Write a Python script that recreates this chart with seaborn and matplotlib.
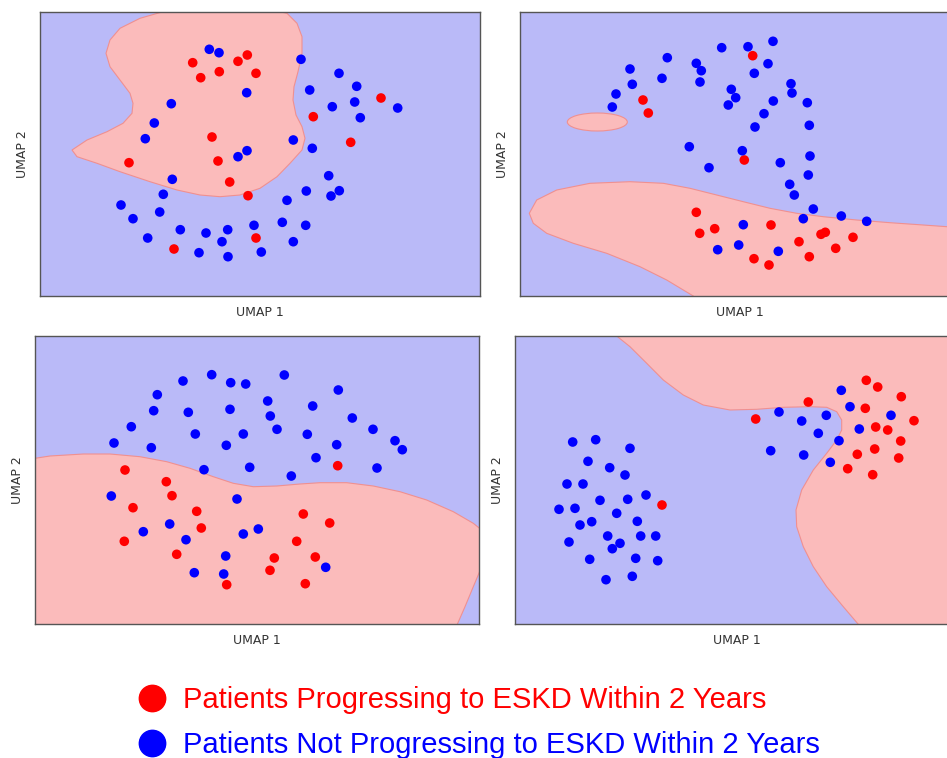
import numpy as np
import pandas as pd
import matplotlib.pyplot as plt
from matplotlib.lines import Line2D
from matplotlib.patches import Ellipse
import seaborn as sns

# Coordinates are in the UMAP embedding units of each panel
# panel 1
p1_red_x = [192.7, 200.7, 219.3, 238, 247.3, 256, 381, 313.3, 212, 350.7, 129, 218, 229.7, 248, 256, 174]
p1_red_y = [62.7, 77.7, 71.7, 61.3, 55, 73.3, 98, 116.7, 137, 142.3, 162.7, 161, 182, 195.7, 238, 249]
p1_blue_x = [209.3, 219, 301, 339, 356.7, 246.7, 309.7, 171.3, 332.3, 354.7, 397.7, 360.3, 154.3, 145.3,
             293.3, 312.3, 247, 238, 172.3, 328.7, 163.3, 306.3, 339.3, 331, 287, 121, 159.7, 133, 282.3,
             305.7, 254, 180.3, 206, 227.7, 147.7, 222, 293.3, 199, 228, 261.3]
p1_blue_y = [49.3, 52.7, 59.3, 73.3, 86.3, 92.7, 90, 103.7, 106.7, 102, 108, 117.7, 123, 138.7,
             140, 148.3, 150.7, 156.7, 179.3, 175.7, 194.3, 191, 190.7, 196, 200.3, 205, 212, 218.7, 222.3,
             225.3, 225.3, 229.7, 233, 229.7, 238, 241.7, 241.7, 252.7, 256.7, 252]
p1_region_x = [163, 140, 120, 110, 106, 110, 120, 130, 133, 132, 123, 107, 87, 72, 77, 97, 120, 150,
               177, 200, 220, 240, 260, 277, 290, 302, 305, 302, 296, 293, 294, 298, 302, 302, 297, 287, 280, 280, 163]
p1_region_y = [11.7, 18.3, 28.3, 40, 53.3, 66.7, 80, 93.3, 103.3, 113.3, 123.3, 131.7, 140, 150, 156.7,
               163.3, 171.7, 181.7, 190, 195, 196.7, 195, 188.3, 176.7, 163.3, 150, 138.3, 126.7, 115, 100,
               86.7, 71.7, 53.3, 36.7, 23.3, 13.3, 11.7, 0, 0]

# panel 2
p2_red_x = [752.7, 643, 648.3, 744.3, 696.3, 699.7, 714.7, 771, 799, 821, 825.3, 853, 835.7, 809.3, 754, 769]
p2_red_y = [55.7, 100, 113, 160, 212.3, 233.3, 228.7, 225, 241.7, 234.3, 232.3, 237.3, 248.3, 256.7, 258.7, 265]
p2_blue_x = [773, 721.7, 748, 667.3, 696.3, 701.3, 768, 630, 754.3, 662, 700, 632.3, 791, 731.3, 792, 616,
             735.7, 773.3, 728.3, 807.3, 612.3, 764, 809.3, 755, 689.3, 742.3, 709, 780.3, 810, 808.3, 789.7,
             794.3, 813.3, 803.3, 841.3, 866.7, 743.3, 738.7, 717.7, 778.3]
p2_blue_y = [41.3, 47.7, 46.7, 57.7, 63.3, 70.7, 63.7, 69, 73.3, 78.3, 82, 84.3, 83.7, 89.3, 93, 94,
             97.7, 101, 105, 102.7, 107, 113.7, 125.3, 127, 146.7, 150.7, 167.7, 162.7, 156, 175, 184.3,
             195, 209, 218.7, 216, 221.3, 224.7, 245, 249.7, 251.3]
p2_region_x = [700, 693.3, 683.3, 666.7, 640, 606.7, 573.3, 546.7, 533.3, 529.3, 536.7, 556.7, 590, 630,
               663.3, 690, 716.7, 743.3, 770, 796.7, 823.3, 856.7, 890, 923.3, 947, 980, 980]
p2_region_y = [310, 296, 290, 280, 266.7, 253.3, 243.3, 233.3, 223.3, 213.3, 200, 190, 183.3, 181.7,
               183.3, 188.3, 195, 201.7, 208.3, 213.3, 216.7, 220, 222.7, 225, 226.7, 230, 310]
p2_island = (597.3, 122, 60, 18)  # centre x, centre y, width, height

# panel 3
p3_red_x = [125, 166.3, 172, 133, 196.7, 201.3, 124.3, 176.7, 303.3, 329.7, 296.7, 274.3, 315.3, 270, 226.7, 305.3, 337.7]
p3_red_y = [470, 481.7, 495.7, 507.7, 511.3, 528, 541.3, 554.3, 514, 523, 541.3, 558, 557, 570.3, 584.7, 583.7, 465.7]
p3_blue_x = [211.7, 284.3, 183, 230.7, 245.7, 157.3, 338.3, 267.7, 312.7, 153.7, 188.3, 230, 270.3, 352.3,
             131.3, 277, 373, 195.3, 243.3, 307.3, 114, 151.3, 226.3, 336.7, 395, 402.3, 316, 204, 249.7,
             291.3, 377, 111.3, 237, 169.7, 143.3, 186, 243.3, 258.3, 225.7, 325.7, 194.3, 223.7]
p3_blue_y = [374.7, 375, 381, 382.7, 384, 394.7, 390, 401, 406, 410.7, 412.3, 409.3, 416, 418,
             426.7, 429.3, 429.3, 434, 434, 434.3, 443, 447.7, 445.3, 444.7, 440.7, 449.7, 457.7, 469.7, 467.3,
             476, 468, 496, 499, 524, 531.7, 539.7, 534, 529, 556, 567.3, 572.7, 574]
p3_region_x = [35, 50, 83.3, 110, 140, 166.7, 190, 213.3, 233.3, 253.3, 276.7, 300, 320, 346.7, 373.3, 400,
               426.7, 453.3, 473.3, 481.7, 481.7, 473.3, 465, 457.3, 457, 30, 30]
p3_region_y = [458.3, 456, 454, 454, 456.7, 461.7, 468.3, 476.7, 483.3, 486.7, 486, 484, 482.7, 482.7, 486,
               491.7, 500, 511.7, 523.3, 530, 566.7, 586.7, 606.7, 624.3, 630, 630, 458.3]

# panel 4
p4_red_x = [866.3, 877.7, 901.3, 808.3, 865.3, 914, 755.7, 875.7, 887.7, 900.7, 874.7, 857.3, 898.7, 847.7, 872.7, 662]
p4_red_y = [380.3, 387, 396.7, 402, 408.3, 420.7, 419, 427, 430, 441, 449, 454.3, 458, 468.7, 474.7, 505]
p4_blue_x = [841.3, 850, 779, 801.7, 826.3, 891, 859.3, 818.3, 839, 770.7, 803.7, 830.3,
             572.7, 595.7, 630, 588, 609.7, 625, 567, 583, 600, 627.7, 646, 559, 575, 616.7, 580, 591.7,
             637.3, 607.7, 640.7, 655.7, 569, 620, 612.3, 589.7, 635.7, 657.7, 606, 632.3]
p4_blue_y = [390.3, 406.7, 412, 421, 415.3, 415.3, 429, 433.3, 440.7, 450.7, 455, 462.3,
             442, 439.7, 448.3, 461.3, 467.7, 475, 484, 484, 500.3, 499.3, 495, 509.3, 508.3, 513.3, 525, 521.7,
             521.3, 536, 536, 536, 542, 543.3, 548.7, 559.3, 558.3, 560.7, 579.7, 576.3]
p4_region_x = [610, 616.7, 630, 646.7, 663.3, 683.3, 703.3, 730, 756.7, 783.3, 810, 826.7, 836.7, 841.7,
               841.7, 836.7, 826.7, 813.3, 801.7, 796, 796.7, 803.3, 813.3, 826.7, 843.3, 858.3, 860, 970, 970]
p4_region_y = [330, 336, 346.7, 363.3, 380, 395, 405, 410, 409.3, 407.3, 406.7, 407.3, 411.7, 420,
               430, 440, 453.3, 470, 490, 510, 526.7, 546.7, 566.7, 586.7, 606.7, 624.3, 630, 630, 330]

labels = ['Patients Progressing to ESKD Within 2 Years', 'Patients Not Progressing to ESKD Within 2 Years']
red = '#ff0000'
blue = '#0000ff'
pink_bg = '#fbbbbb'
blue_bg = '#babaf8'

W, H = 947, 758
fig = plt.figure(figsize=(W / 100, H / 100), dpi=100)
sns.set_style('white')

# panel boxes (left, right, top, bottom) in UMAP units == picture layout
panels = [
    dict(box=(40, 480, 12, 296), rx=p1_red_x, ry=p1_red_y, bx=p1_blue_x, by=p1_blue_y,
         reg=[(p1_region_x, p1_region_y)], island=None),
    dict(box=(520, 960, 12, 296), rx=p2_red_x, ry=p2_red_y, bx=p2_blue_x, by=p2_blue_y,
         reg=[(p2_region_x, p2_region_y)], island=p2_island),
    dict(box=(35, 479, 336, 624), rx=p3_red_x, ry=p3_red_y, bx=p3_blue_x, by=p3_blue_y,
         reg=[(p3_region_x, p3_region_y)], island=None),
    dict(box=(515, 959, 336, 624), rx=p4_red_x, ry=p4_red_y, bx=p4_blue_x, by=p4_blue_y,
         reg=[(p4_region_x, p4_region_y)], island=None),
]

for p in panels:
    l, r, t, b = p['box']
    ax = fig.add_axes([l / W, (H - b) / H, (r - l) / W, (b - t) / H])
    ax.set_facecolor(blue_bg)
    for rx_, ry_ in p['reg']:
        ax.fill(rx_, ry_, facecolor=pink_bg, edgecolor='#f09090', linewidth=0.8, zorder=1)
    if p['island'] is not None:
        cx, cy, ew, eh = p['island']
        ax.add_patch(Ellipse((cx, cy), ew, eh, facecolor=pink_bg, edgecolor='#f09090', linewidth=0.8, zorder=1))
    df = pd.DataFrame({
        'x': list(p['rx']) + list(p['bx']),
        'y': list(p['ry']) + list(p['by']),
        'group': ['prog'] * len(p['rx']) + ['nonprog'] * len(p['bx']),
    })
    sns.scatterplot(data=df, x='x', y='y', hue='group', palette={'prog': red, 'nonprog': blue},
                    s=48, edgecolor='none', legend=False, ax=ax, zorder=3)
    ax.set_xlim(l, r)
    ax.set_ylim(b, t)
    ax.set_xticks([])
    ax.set_yticks([])
    ax.set_xlabel('UMAP 1', fontsize=9, color='#333333', labelpad=7)
    ax.set_ylabel('UMAP 2', fontsize=9, color='#333333', labelpad=8)
    for s in ax.spines.values():
        s.set_color('#555555')
        s.set_linewidth(1.0)

handles = [Line2D([], [], marker='o', linestyle='none', markersize=19, color=red),
           Line2D([], [], marker='o', linestyle='none', markersize=19, color=blue)]
leg = fig.legend(handles, labels, loc='upper left', bbox_to_anchor=(111 / W, (H - 660) / H),
                 frameon=False, handlelength=1.0, handletextpad=0.56, labelspacing=0.58,
                 prop={'family': 'Liberation Sans', 'size': 21})
for txt, c in zip(leg.get_texts(), [red, blue]):
    txt.set_color(c)

fig.savefig('out.png', dpi=100)
